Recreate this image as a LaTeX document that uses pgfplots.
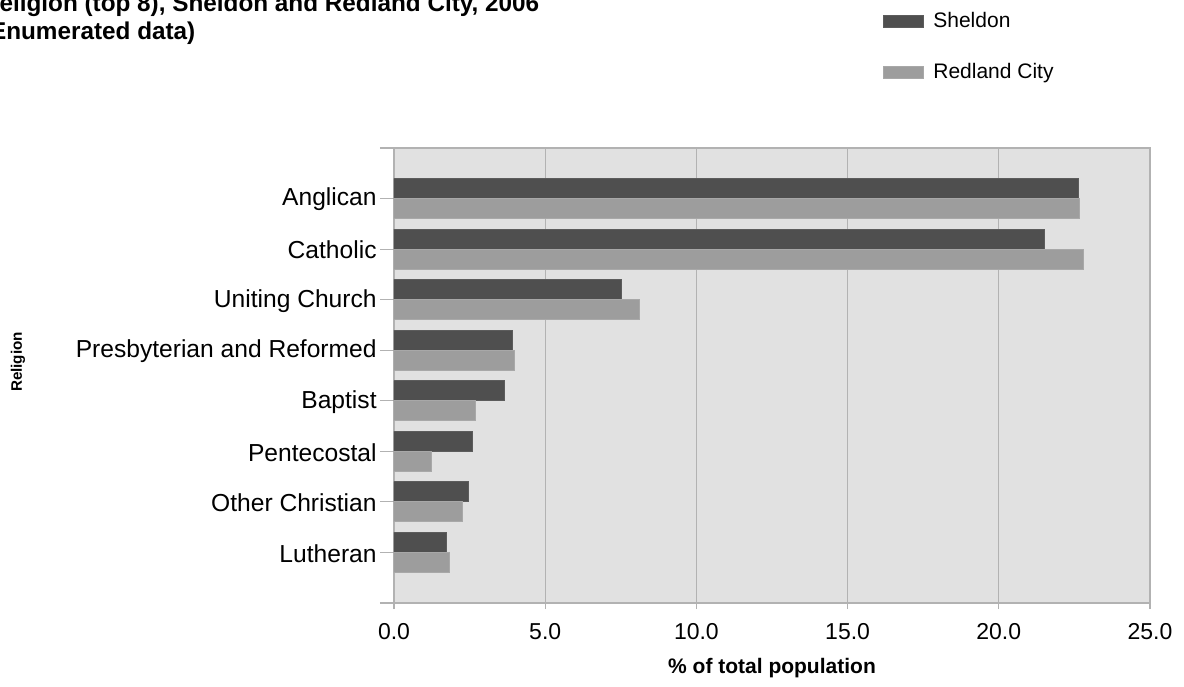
\documentclass[border=0pt]{standalone}
\usepackage{fontspec}
\setmainfont{Liberation Sans}
\usepackage{pgfplots}
\pgfplotsset{compat=1.18}
\definecolor{darkbar}{HTML}{4F4F4F}
\definecolor{darkedge}{HTML}{5C5C5C}
\definecolor{lightbar}{HTML}{9D9D9D}
\definecolor{lightedge}{HTML}{A8A8A8}
\definecolor{plotbg}{HTML}{E1E1E1}
\definecolor{gridc}{HTML}{B2B2B2}
\begin{document}
\begin{tikzpicture}
\useasboundingbox (0,0) rectangle (592pt,343pt);
\clip (0,0) rectangle (592pt,343pt);
\node[anchor=base west, inner sep=0pt, font=\bfseries\fontsize{12.15}{14.5}\selectfont] at (-9.2pt,337.2pt) {Religion (top 8), Sheldon and Redland City, 2006};
\node[anchor=base west, inner sep=0pt, font=\bfseries\fontsize{12.15}{14.5}\selectfont] at (-9.2pt,323.2pt) {(Enumerated data)};
\node[rotate=90, font=\bfseries\fontsize{7.6}{9}\selectfont] at (9pt,162pt) {Religion};
\begin{axis}[
  at={(197pt,41.5pt)}, anchor=south west,
  scale only axis, width=378pt, height=227.5pt,
  xbar, bar width=10pt,
  xmin=0, xmax=25, ymin=-1, ymax=8,
  axis background/.style={fill=plotbg},
  xtick={0,5,...,25},
  ytick=\empty,
  xtick pos=bottom, ytick pos=left,
  extra y ticks={-1,0,1,2,3,4,5,6,7,8},
  extra y tick labels={,Lutheran,Other Christian,Pentecostal,Baptist,Presbyterian and Reformed,Uniting Church,Catholic,Anglican,},
  extra tick style={major tick length=7pt, grid=none},
  major tick length=3pt,
  tick align=outside,
  xmajorgrids,
  major grid style={color=gridc, line width=0.6pt},
  axis line style={color=gridc, line width=0.8pt},
  tick style={color=gridc, line width=0.6pt},
  /pgf/number format/assume math mode=true,
  xticklabel={\pgfmathprintnumber[fixed,fixed zerofill,precision=1]{\tick}},
  xticklabel style={font=\fontsize{11.5}{13}\selectfont, yshift=-3.5pt},
  yticklabel style={font=\fontsize{12.3}{14}\selectfont, inner sep=1.5pt, yshift=-0.5pt},
  xlabel={\textbf{\% of total population}},
  xlabel style={at={(axis description cs:0.5,0)}, anchor=center, yshift=-32.5pt, font=\fontsize{10.5}{12}\selectfont},
  legend style={at={(axis description cs:0.6468,1.308)}, anchor=north west, draw=none, fill=none, inner sep=0pt, row sep=12.5pt, font=\fontsize{10.5}{12}\selectfont, nodes={inner xsep=4.5pt}},
  legend cell align=left,
  legend image code/.code={\draw[#1, line width=0.5pt] (0pt,-3.1pt) rectangle (20pt,3.1pt);},
]
\addplot[fill=darkbar, draw=darkedge, line width=0.5pt, bar shift=5pt] coordinates {
  (1.73,0) (2.45,1) (2.59,2) (3.65,3) (3.91,4) (7.53,5) (21.52,6) (22.62,7)};
\addlegendentry{Sheldon}
\addplot[fill=lightbar, draw=lightedge, line width=0.5pt, bar shift=-5pt] coordinates {
  (1.82,0) (2.26,1) (1.23,2) (2.69,3) (4.00,4) (8.12,5) (22.81,6) (22.67,7)};
\addlegendentry{Redland City}
\end{axis}
\end{tikzpicture}
\end{document}
